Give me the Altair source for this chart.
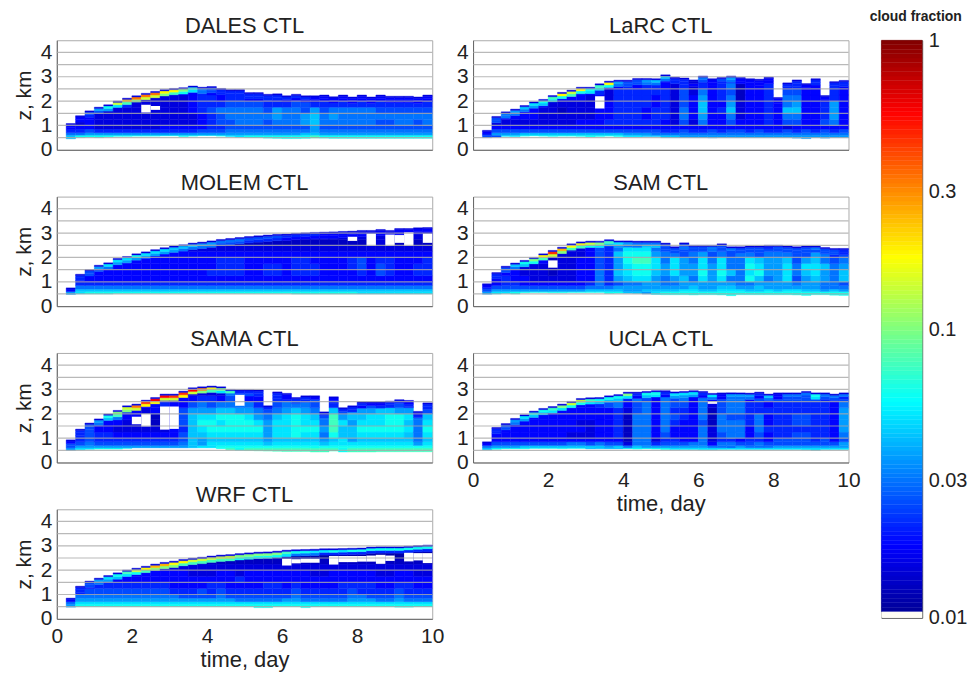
import altair as alt
import numpy as np
import pandas as pd

# letter code -> cloud fraction
LEVELS = dict(a=.0115, b=.013, c=.015, d=.018, e=.021, f=.025, g=.03, h=.036, i=.043,
              j=.05, k=.06, l=.075, m=.1, n=.14, o=.18, p=.25, q=.33, r=.45, s=.56)
# height bands (km) of the rows below
BAND_EDGES = [0, .6, .7, .85, 1, 1.25, 1.5, 1.75, 2, 2.25, 2.5, 2.75, 3, 3.5]
FIRST_DAY = .25
DAY_STEP = .25

DALES_top = [1.08,1.40,1.60,1.75,1.85,2.0,2.12,2.22,2.32,2.4,2.47,2.52,2.55,2.62,2.57,2.6,2.52,2.47,2.47,2.35,2.35,2.28,2.3,2.22,2.28,2.22,2.22,2.25,2.18,2.25,2.17,2.25,2.17,2.25,2.2,2.2,2.2,2.17,2.25]
DALES_base = [.45,.5,.52,.5,.53,.55,.55,.56,.56,.56,.57,.57,.54,.56,.58,.58,.56,.54,.52,.5,.5,.48,.47,.46,.46,.47,.48,.48,.47,.47,.47,.47,.47,.47,.47,.47,.47,.47,.47]
DALES_cap1 = "ddf hknp qqqo omkg feee eeee eeed dddd dddd dddd dddd"
DALES_cap2 = "dde fhjl mnnm lkjg feee eeee dddd dddd dddd dddd dddd"
DALES_rows = [
 "ikk kkkk kkkk kkkk kkjj kkkk kkkl kkkk kkkk kkkk",
 "ggh hhhh hhhh hhhh hhhh hhhh hhii hhhh hhhh hhhh",
 "eef eeee eeee eeef ffgg gggg gggh gggg gggg gggg",
 "cdd cccc cccd dddd eeff ffff fffh ffff ffff ffff",
 "ccd cccc cccc cccd effg ggfg gghi gggg ggff ggfg",
 "cdd cccc cccc cccd efgg gggh gghi ghgg gggg gggg",
 "ddd dccc cccc ccde fggg ggfh ggfh fggg ggff ffff",
 "ddd ddde cccc ccde eeff ffee effe eeee eeee eeee",
 "ddd dddd dccc ccde edee dddd dddd dddd dddd dddd",
 "ddd dddd ddcc ddde dddd dddd dddd dddd dddd dddd",
 "d",
]
DALES_holes = [(2.25,2.5,1.53,1.85),(2.5,2.75,1.64,1.8)]

LaRC_top = [.8,1.37,1.56,1.67,1.82,1.97,2.07,2.23,2.36,2.45,2.57,2.57,2.71,2.82,2.86,2.86,2.93,2.93,2.92,3.08,2.98,2.95,2.87,3.03,2.92,2.97,3.03,2.97,2.92,2.9,2.98,2.15,2.75,2.87,2.72,2.92,2.23,2.8,2.85]
LaRC_base = [.5,.52,.55,.54,.56,.57,.56,.55,.56,.56,.55,.53,.55,.56,.54,.53,.53,.54,.54,.5,.5,.5,.5,.5,.49,.5,.5,.5,.5,.5,.5,.5,.5,.48,.46,.5,.48,.5,.5]
LaRC_cap1 = "dfg hijk lono kloh ffhi ieec gdfh dddd deed edee"
LaRC_cap2 = "dfg gghi jklk jjkg ffgg geed fdeg dddd deed edee"
LaRC_rows = [
 "ffj jkkk kkkk kkkk jjii iihh hhhh hhhh hhhh hhhh",
 "ehh hiii iiii iiii hhhg gggg gggg gggg gggg gggg",
 "dff ffff ffff ffff ffff eefe efef fefe efef efef",
 "cdd dddd dddd dddd dddd dddd dddd dddd dcdd dddd",
 "dcc cccc cccd ddee eeee dcfc gddf ddde dffd dfgd",
 "cdd dddc cccc cdde eede ecgd hddg cdde dggd dehd",
 "ddd dddc cbcc cdde eede ecgd idei cdde diid dehd",
 "ddd dddd cccc cdde eeed ecfd iddh cdde dghd dehd",
 "ddd dddd dddd cdce eeed ecfd hdeg bdde dggd deed",
 "ddd dddd ddde dece eeee ecfc gdef bdde dffd dfed",
 "ddd dddd dddd dddd edee dcec edeg bdde ddee deed",
 "d",
]
LaRC_holes = [(3.25,3.5,1.7,2.2)]

MOLEM_top = [.75,1.31,1.5,1.68,1.78,1.96,2.04,2.15,2.23,2.32,2.4,2.47,2.52,2.59,2.63,2.68,2.74,2.78,2.82,2.86,2.89,2.92,2.95,2.96,2.99,3.01,3.03,3.04,3.05,3.07,3.08,3.11,3.11,3.15,3.11,3.19,3.19,3.22,3.23]
MOLEM_base = [.48,.5,.5,.5,.5,.52,.52,.52,.52,.52,.52,.52,.52,.52,.52,.52,.52,.52,.52,.52,.52,.52,.52,.52,.5,.5,.5,.5,.5,.5,.5,.5,.5,.5,.5,.5,.5,.5,.5]
MOLEM_cap1 = "def hjjj kjjj iiih hggg ffff eeee dddd dddd dddd"
MOLEM_cap2 = "def fghh hhhh hggg gfff eeee dddd dddd dddd dddd"
MOLEM_rows = [
 "hjk kkkk kkkk kkkk kkkk kkkk kkkk kkkk jjjj jjjj",
 "fii iiii iiii iiii iiii iiii iiii iiii iiii iiii",
 "egg gggg gggg gggg gggg gggg gggg gggg gggg gggg",
 "dee eeee eeee eeee eeee eeee eeee eeee eeee eeee",
 "ddd dddd dddd dddd dddd dddd dddd dddd dddd dddd",
 "ddd dddd dddd dddd eeee ddee deee dddd edfe ddee",
 "ddd dddd dddd dddd deee ddee deee ddde fdfe ddee",
 "ddd dddd dddd dddd deee dddd deed ddde fdee ddde",
 "ddd dddd dddd dddd dddd dddd dddd dddd dddd dddd",
 "ddd dddd dddd ddcc cccc cccc cccc cccc cccc cccc",
 "ddd dddd dddd cccc ccbb bbbb bbbb bbbb bbcb bbbb",
 "c", "b",
]
MOLEM_holes = [(7.75,8.0,2.68,2.85),(8.25,8.5,2.47,2.98),(8.75,9.0,2.47,2.94),(9.0,9.25,2.6,2.92),(9.25,9.5,2.47,3.03),(9.75,10.0,2.6,2.98)]

SAM_top = [.92,1.38,1.64,1.77,1.88,2.0,2.15,2.29,2.42,2.56,2.64,2.67,2.67,2.73,2.68,2.68,2.67,2.67,2.67,2.59,2.44,2.6,2.5,2.5,2.5,2.56,2.44,2.44,2.47,2.47,2.5,2.5,2.47,2.44,2.47,2.47,2.41,2.37,2.37]
SAM_base = [.49,.5,.52,.5,.55,.56,.56,.55,.55,.56,.56,.56,.56,.52,.53,.53,.52,.5,.48,.47,.47,.47,.46,.47,.47,.46,.43,.47,.47,.47,.47,.47,.47,.46,.44,.47,.47,.45,.44]
SAM_cap1 = "def ikmo rpoo nmlj hggg ffff fgfg fffe ffff gffe"
SAM_cap2 = "def gikl nmll kjih ggii ffgf fgff ffff ffff fffe"
SAM_rows = [
 "hjj kkkk kkkk kkkk iihj kkkk kkkk kkkk kkkk kkkk",
 "fhh hhhh hhhh iiii hhii iijj iijj jiij ijji ihih",
 "eff ffff ffff gggh hhhh hhhi hhii hhih hhhh hggg",
 "cde eddd dddd egef gghh gghh hhhh gghh hhgh hggf",
 "cde ddcc cccd dgeh ijjh ghig jhjg gkig hjfh ihgi",
 "ccd dccc bccd dgei jkki hjhh khki gjkh hjgi jhgi",
 "ddd dccc bccd dfeh jkkj hjhh jhjg gkjh hjgj jigh",
 "ddd dddd bccd dfeh kllj gjhg jgjg gjih hifh igfg",
 "ddd dddd bccc dfei kkkh ggfg hfgf ggfg ggff hgef",
 "ddd dddd dccc dfeg jjjg fefe fefe efef eeee feed",
 "ddd dddd dddd dddf ggge dedd dddd dddd dddd dddd",
 "d",
]
SAM_holes = [(2.0,2.25,1.58,1.88)]

SAMA_top = [.93,1.37,1.62,1.79,1.99,2.14,2.33,2.4,2.56,2.67,2.81,2.81,2.93,3.07,3.11,3.14,3.11,3.0,2.99,2.99,2.98,2.33,2.9,2.84,2.67,2.74,2.74,2.08,2.7,2.25,2.33,2.49,2.49,2.49,2.52,2.58,2.55,2.1,2.45]
SAMA_base = [.5,.52,.54,.55,.55,.55,.58,.6,.6,.6,.6,.6,.6,.6,.6,.6,.57,.52,.5,.49,.48,.47,.46,.45,.45,.45,.43,.43,.47,.43,.43,.43,.43,.44,.44,.44,.44,.44,.44]
SAMA_cap1 = "def hkmn qrss rrsq omle eeee deed edee edde edde deee"
SAMA_cap2 = "def gilm noon nonm ljgf fefe dfef fefe dfee feee ffef"
SAMA_rows = [
 "hjj kkkk kkkk kkkk kklk llll llll llkl llll llll",
 "fhh hhhh hhhh hhij jkkk kkkk kkkk kkkk kkkk kkkk",
 "ffg ffff ffff fgih jjjj jjij jjjj ijjj jjjj jjhj",
 "def eeee eeee efih iiii iihi iiii hijh iiii iigi",
 "def eedd dddd dfii jjjj jjhj jkjj gkii jjjj jigj",
 "ddf ddcc cccc deij kkkk kkhj jkkk hlii kkkk kjgk",
 "ddd eddc cbbc dfik kjkk kjhj jkjj gljh jjjk kigj",
 "ddd ddgd dbbc cfij jkkk jhgi jkji glhi ijjk kjgi",
 "ddd ddde dcdc cfhh hiih hgfg hihg eihh hhii hhff",
 "ddd dddd ddde ddfg fggg geef gggf deee eeef feed",
 "ddd dddd dddd ddde edfe ddde eeed dddd dddd dddd",
 "c",
]
SAMA_holes = [(2.0,2.25,1.57,1.88),(2.25,2.5,1.48,2.0),(2.75,3.0,1.35,2.3),(3.0,3.25,1.38,2.3),(4.75,5.0,2.33,2.78)]

UCLA_top = [.85,1.44,1.6,1.81,1.96,2.11,2.22,2.3,2.4,2.51,2.63,2.66,2.67,2.74,2.79,2.89,2.89,2.92,2.95,2.95,2.9,2.92,2.95,2.92,2.84,2.86,2.86,2.86,2.85,2.89,2.81,2.86,2.86,2.86,2.92,2.86,2.86,2.81,2.86]
UCLA_base = [.52,.54,.56,.56,.56,.58,.58,.58,.57,.58,.58,.56,.56,.56,.56,.56,.55,.56,.55,.53,.53,.53,.53,.52,.52,.53,.53,.53,.53,.53,.53,.53,.53,.53,.52,.5,.53,.53,.53]
UCLA_cap1 = "def hjkk lmnn lkkk mekk ejjj ejdh hhei dggg kggg dg"
UCLA_cap2 = "def ghii jjkk jiii jdij dhhh dgdg ggdg dfff jffe dg"
UCLA_rows = [
 "ikk kkkk kkkk iiii kkkk kjjj jjjj jjjj jjjj jjjj",
 "ghh hiii iiii iihi gihh hhhh hggg hggg hhhh hhhh",
 "eff ffff ffgg fgff cgge fffg gdgg ffgf ffff fffh",
 "ddd dddd dddd dddd bggc eedd gcee deed ffff efdf",
 "ddd dddd ddcc cdde bggd fddd gcfg gdfd eeff eedg",
 "ddd dddd dddd cdde bggd gddd gcgg gdge eeee eedh",
 "ddd dddd dddc cdde bggd gedd fbgg gegd eeff eedh",
 "ddd dddd dddd ddde bggd gfed gbgf fegd eeff eedh",
 "ddd dddd dddd ddde cfgd geed gbfg geee eeee eedh",
 "ddd dddd dddd defg dfgd gffd gcfg geed eeee eedg",
 "ddd dddd dddd defh egfd gfgd gdfg gdfd ffff fedf",
 "e", "d",
]
UCLA_holes = [(6.25,6.5,2.41,2.52)]

WRF_top = [.85,1.34,1.55,1.67,1.78,1.89,2.0,2.08,2.16,2.25,2.32,2.37,2.44,2.49,2.53,2.58,2.62,2.64,2.68,2.71,2.74,2.75,2.78,2.82,2.84,2.85,2.86,2.88,2.88,2.89,2.9,2.91,2.95,2.96,2.96,2.96,2.98,3.01,3.03]
WRF_base = [.48,.5,.5,.5,.5,.5,.5,.5,.5,.5,.5,.5,.5,.5,.5,.5,.5,.5,.5,.5,.46,.46,.5,.5,.5,.46,.5,.5,.5,.5,.5,.5,.5,.5,.5,.48,.48,.5,.5]
WRF_cap1 = "def hjkl nopp oonn nnnm mmmm lkkj jkjk kkkk kkkk"
WRF_cap2 = "def ghij klmm mlll lllk kkkk jggg eeee eeee eeee"
WRF_rows = [
 "hkk kkkk kkkk kkkk kkkk kkkk kkkk kkkk kkkk kkkk",
 "gjj jjjj jjjj jjjj jjjj jjjj jjjj jjjj jjjj jjjj",
 "ehh hhhh hhhh hhhh hhhg gggg hhgg gggh hhgg hggg",
 "dgg gggg gggg gfff fgff ffff fgff fffg gfff gfff",
 "def ffff ffff eeef efee eeee efee eeef eeee feee",
 "ddd eeee eeee dddd eedd ddee dedd ddee eedd eedd",
 "ddd dddd dddd dddd ddde dddd dddd dddd dddd dddd",
 "ddd dddd dddd ddcc cddc dddd dddc cddd ddcc ddcc",
 "ccc cccc cccc cccc cccc cccc cccc cccc cccc cccc",
 "ccc cccc cccc bbbb bbbb bbbb bbbb bbbb bbbb bbbb",
 "ccc cccc cccc cccb bbbb aabb baaa aaaa aaaa aaaa",
 "c", "c",
]
WRF_holes = [(6.0,6.25,2.19,2.47),(6.25,6.5,2.28,2.45),(6.5,7.0,2.3,2.47),(7.25,7.5,2.23,2.58),(7.5,8.0,2.33,2.58),(8.0,8.25,2.35,2.58),(8.25,8.5,2.35,2.6),(8.5,8.75,2.26,2.63),(8.75,9.0,2.38,2.6),(9.25,9.5,2.36,2.71),(9.5,9.75,2.4,2.7),(9.75,10.0,2.29,2.7)]

EDGE_LEVEL = "c"
EDGE_DEPTH, CAP1_DEPTH, CAP2_DEPTH = .05, .15, .26

GRID_Z = [.5, 1, 1.5, 2, 2.5, 3, 3.5, 4]
X_TICKS = [0, 2, 4, 6, 8, 10]
Y_TICKS = [0, 1, 2, 3, 4]
BAR_TICKS = [.01, .03, .1, .3, 1]
BAR_BLANK = [.01, .0105]
JET_T = [0, .125, .375, .625, .875, 1]
JET_COLORS = ["#00008f", "#0000ff", "#00ffff", "#ffff00", "#ff0000", "#800000"]
JET_STOPS = [10 ** (-2 + 2 * t) for t in JET_T]

FONT = "Liberation Sans"
TXT = "#222222"
color_scale = alt.Scale(type="log", domain=JET_STOPS, range=JET_COLORS, interpolate="rgb", clamp=True)


def fit(row):
    row = row.replace(" ", "")
    return (row + row[-1] * 39)[:39]


def cells(top, base, cap1, cap2, rows):
    cap1, cap2 = fit(cap1), fit(cap2)
    rows = [fit(r) for r in rows]
    out = []
    for k in range(39):
        t0 = FIRST_DAY + DAY_STEP * k
        t1 = t0 + DAY_STEP
        tp, bs = top[k], base[k]
        short = tp - bs < .5
        limit = tp - CAP2_DEPTH if not short else tp - CAP1_DEPTH
        for j in range(len(BAND_EDGES) - 1):
            row = rows[min(j, len(rows) - 1)]
            z0 = max(BAND_EDGES[j], bs)
            z1 = min(BAND_EDGES[j + 1], limit)
            if z1 > z0:
                out.append((t0, t1, z0, z1, LEVELS[row[k]]))
        if not short:
            out.append((t0, t1, tp - CAP2_DEPTH, tp - CAP1_DEPTH, LEVELS[cap2[k]]))
        out.append((t0, t1, tp - CAP1_DEPTH, tp - EDGE_DEPTH, LEVELS[cap1[k]]))
        out.append((t0, t1, tp - EDGE_DEPTH, tp, LEVELS[EDGE_LEVEL]))
    return pd.DataFrame(out, columns=["t0", "t1", "z0", "z1", "v"])


def panel(name, top, base, cap1, cap2, rows, holes, xlabels=False, ytitle=True):
    x_axis = alt.Axis(values=X_TICKS, title="time, day" if xlabels else None, labels=xlabels, grid=False,
                      tickSize=0, labelFontSize=21, titleFontSize=22, labelFont=FONT, titleFont=FONT,
                      labelColor=TXT, titleColor=TXT, titleFontWeight="normal", domainColor="#666666",
                      labelPadding=7, titlePadding=3, labelFlush=False, labelOverlap=False)
    y_axis = alt.Axis(values=Y_TICKS, title="z, km" if ytitle else None, grid=False, tickSize=0,
                      labelFontSize=21, titleFontSize=21, labelFont=FONT, titleFont=FONT,
                      labelColor=TXT, titleColor=TXT, titleFontWeight="normal", domainColor="#666666",
                      labelPadding=5, titlePadding=6, labelFlush=False, labelOverlap=False)
    xs = alt.Scale(domain=[0, 10], nice=False)
    ys = alt.Scale(domain=[0, 4.5], nice=False)
    x = alt.X("t0:Q", scale=xs, axis=x_axis)
    y = alt.Y("z0:Q", scale=ys, axis=y_axis)
    heat = alt.Chart(cells(top, base, cap1, cap2, rows)).mark_rect(strokeWidth=.4).encode(
        x=x, x2="t1:Q", y=y, y2="z1:Q",
        color=alt.Color("v:Q", scale=color_scale, legend=None),
        stroke=alt.Color("v:Q", scale=color_scale, legend=None))
    gaps = alt.Chart(pd.DataFrame(holes, columns=["t0", "t1", "z0", "z1"])).mark_rect(color="white").encode(
        x=x, x2="t1:Q", y=y, y2="z1:Q")
    grid = alt.Chart(pd.DataFrame({"z": GRID_Z})).mark_rule(color="#a8a8a8", opacity=.8, strokeWidth=1.2).encode(
        y=alt.Y("z:Q", scale=ys, axis=y_axis))
    return alt.layer(heat, gaps, grid).properties(
        width=377, height=110,
        title=alt.TitleParams(name, fontSize=22, font=FONT, fontWeight="normal", color=TXT, offset=2),
        view=alt.ViewConfig(stroke="#aaaaaa"))


left = alt.vconcat(
    panel("DALES CTL", DALES_top, DALES_base, DALES_cap1, DALES_cap2, DALES_rows, DALES_holes),
    panel("MOLEM CTL", MOLEM_top, MOLEM_base, MOLEM_cap1, MOLEM_cap2, MOLEM_rows, MOLEM_holes),
    panel("SAMA CTL", SAMA_top, SAMA_base, SAMA_cap1, SAMA_cap2, SAMA_rows, SAMA_holes),
    panel("WRF CTL", WRF_top, WRF_base, WRF_cap1, WRF_cap2, WRF_rows, WRF_holes, xlabels=True),
    spacing=47, bounds="flush")
right = alt.vconcat(
    panel("LaRC CTL", LaRC_top, LaRC_base, LaRC_cap1, LaRC_cap2, LaRC_rows, LaRC_holes, ytitle=False),
    panel("SAM CTL", SAM_top, SAM_base, SAM_cap1, SAM_cap2, SAM_rows, SAM_holes, ytitle=False),
    panel("UCLA CTL", UCLA_top, UCLA_base, UCLA_cap1, UCLA_cap2, UCLA_rows, UCLA_holes, xlabels=True, ytitle=False),
    spacing=47, bounds="flush")

edges = np.geomspace(BAR_BLANK[1], 1, 129)
bar_df = pd.DataFrame({"lo": edges[:-1], "hi": edges[1:], "v": np.sqrt(edges[:-1] * edges[1:])})
bar_axis = alt.Axis(values=BAR_TICKS, orient="right", title=None, tickSize=0, domain=False, grid=False,
                    labelExpr="datum.value", labelFontSize=20, labelFont=FONT, labelColor=TXT, labelPadding=6,
                    labelFlush=False, labelOverlap=False)
bar_scale = alt.Scale(type="log", domain=[.01, 1], nice=False)
bar_y = alt.Y("lo:Q", scale=bar_scale, axis=bar_axis)
bar = alt.Chart(bar_df).mark_rect(strokeWidth=.4).encode(
    x=alt.value(0), x2=alt.value(41), y=bar_y, y2="hi:Q",
    color=alt.Color("v:Q", scale=color_scale, legend=None),
    stroke=alt.Color("v:Q", scale=color_scale, legend=None))
blank = alt.Chart(pd.DataFrame({"lo": [BAR_BLANK[0]], "hi": [BAR_BLANK[1]]})).mark_rect(color="#fffdf5").encode(
    x=alt.value(0), x2=alt.value(41), y=bar_y, y2="hi:Q")
colorbar = alt.layer(bar, blank).properties(
    width=41, height=580,
    title=alt.TitleParams("cloud fraction", fontSize=14, font=FONT, fontWeight="bold", color=TXT, offset=6, dx=14),
    view=alt.ViewConfig(stroke="#555555"))

chart = alt.hconcat(alt.hconcat(left, right, spacing=10), colorbar, spacing=7).properties(
    padding={"left": 4, "top": 0, "right": 0, "bottom": 0}, background="white")
chart.save("out.html", embed_options={"renderer": "svg", "actions": False})
